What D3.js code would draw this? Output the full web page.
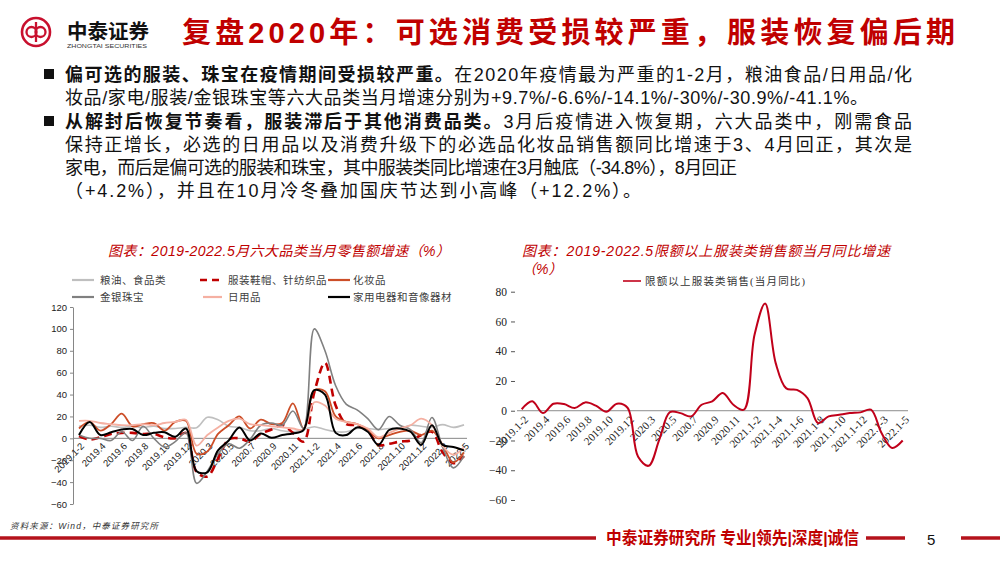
<!DOCTYPE html>
<html lang="zh-CN">
<head>
<meta charset="UTF-8" />
<title>复盘2020年：可选消费受损较严重，服装恢复偏后期</title>
<script src="https://d3js.org/d3.v7.min.js"></script>
<style>
    body { margin: 0; background: #fff; }
    svg { display: block; font-family: "Liberation Sans", "Noto Sans CJK SC", sans-serif; }
</style>
</head>
<body>
<svg id="slide" width="1000" height="563"></svg>
<script>
    // ---- data ----
    const months = ["2019.1-2","2019.3","2019.4","2019.5","2019.6","2019.7","2019.8","2019.9","2019.10","2019.11","2019.12",
        "2020.1-2","2020.3","2020.4","2020.5","2020.6","2020.7","2020.8","2020.9","2020.10","2020.11","2020.12",
        "2021.1-2","2021.3","2021.4","2021.5","2021.6","2021.7","2021.8","2021.9","2021.10","2021.11","2021.12",
        "2022.1-2","2022.3","2022.4","2022.5"];

    const leftTickLabels = ["2019.1-2","2019.4","2019.6","2019.8","2019.10","2019.12","2020.3","2020.5","2020.7","2020.9",
        "2020.11","2021.1-2","2021.4","2021.6","2021.8","2021.10","2021.12","2022.3","2022.5"];
    const rightTickLabels = ["2019.1-2","2019.4","2019.6","2019.8","2019.10","2019.12","2020.3","2020.5","2020.7","2020.9",
        "2020.11","2021.1-2","2021.1-4","2021.1-6","2021.1-8","2021.1-10","2021.1-12","2022.1-3","2022.1-5"];

    const leftSeriesNames = ["粮油、食品类","服装鞋帽、针纺织品","化妆品","金银珠宝","日用品","家用电器和音像器材"];

    const grain = [11, 12, 10, 11, 10, 11, 10, 11, 9, 9, 10,
        9.7, 19.2, 17, 11, 10, 7, 7, 9, 7, 6, 8,
        10.6, 8, 6, 6, 9, 9, 8, 9, 9, 12, 11,
        10, 12.5, 10, 12.3];
    const clothing = [2, -1, 1, 4, 5, 5, 4, 4, 1, 0, 5,
        -30.9, -34.8, -18.5, -1, 0, -3, 4.2, 8, 12.2, 5, -3,
        42, 69, 30, 13, 12, 7, -6, -5, -3, -2, 3,
        6, -12.7, -22.8, -16.2];
    const cosmetics = [9, 15, 7, 13, 22.5, 11, 13, 14, 7, 15, 16,
        -14.1, -12, 4, 12, 20, 9, 17, 13, 14, 32, 9,
        44, 43, 20, 15, 13, 8, 0, 3, 6, 7, 3,
        7, -6, -22, -13];
    const gold = [3, 0, 0, -2, 6, -2, 11, 0, -8, -3, 5,
        -41.1, -30, -14, -5, -9, -1, 12, 14, 12, 25, 9,
        100, 80, 48, 31, 26, 18, 8, 20, 12, 8, -4,
        19, -8, -27, -16];
    const daily = [16, 16, 14, 13, 12, 12, 13, 12, 14, 15, 17,
        -6.6, 3, 10, 16, 18, 13, 12, 11, 10, 9, 8,
        33, 30, 18, 15, 13, 9, 1, 5, 9, 12, 18,
        12, -7, -15, -8];
    const appliances = [3, 15, 3, 5.5, 8, 8.5, 3, 5, 5.5, 1.5, 9,
        -30, -31, -11, -2, 10, -2, 4.5, 0.5, 3, 4.5, 7.6,
        44, 40, 5, 3, 10, 6, -6, 7.6, 9, 6, -6,
        12, -6, -8, -11];

    const aboveQuotaClothing = [1, 6.3, -1.6, 4.7, 4.5, 1.8, 5.6, 3.4, -0.7, 4.7, 2,
        -31, -37, -19.5, -1, -1.6, -3.8, 4, 6.3, 11.9, 4, 0.7,
        51, 72, 32, 15, 14, 8.5, -8.3, -3.8, -2.7, -1.6, -1.1,
        0.7, -15, -25, -20];

    const leftTicksY = [-60, -40, -20, 0, 20, 40, 60, 80, 100, 120];
    const rightTicksY = [-60, -40, -20, 0, 20, 40, 60, 80];

    const RED = "#c00000";
    const SERIF = "'Liberation Serif', 'Noto Sans CJK SC', serif";

    const svg = d3.select("#slide");

    // ---- header ----
    const logo = svg.append("g").attr("transform", "translate(36,32)")
        .attr("fill", "none").attr("stroke", "#c8102e");
    logo.append("circle").attr("r", 14).attr("stroke-width", 2.6);
    logo.append("circle").attr("cx", -4.5).attr("r", 5).attr("stroke-width", 2.3);
    logo.append("circle").attr("cx", 4.5).attr("r", 5).attr("stroke-width", 2.3);
    logo.append("line").attr("y1", -10).attr("y2", 10).attr("stroke-width", 2.3);

    svg.append("text").attr("x", 67).attr("y", 39)
        .attr("font-size", 20).attr("font-weight", "bold").attr("fill", "#111")
        .attr("font-family", "'Noto Sans CJK SC', sans-serif")
        .attr("textLength", 82).attr("lengthAdjust", "spacingAndGlyphs")
        .text("中泰证券");
    svg.append("text").attr("x", 67).attr("y", 48)
        .attr("font-size", 6).attr("fill", "#333")
        .attr("textLength", 80).attr("lengthAdjust", "spacingAndGlyphs")
        .text("ZHONGTAI SECURITIES");

    svg.append("text").attr("x", 182).attr("y", 43)
        .attr("font-size", 29).attr("font-weight", "bold").attr("fill", RED)
        .attr("textLength", 773).attr("lengthAdjust", "spacing")
        .text("复盘2020年：可选消费受损较严重，服装恢复偏后期");

    // ---- bullet text ----
    const bodyLines = [
        { y: 74, w: 847, bullet: true, parts: [["偏可选的服装、珠宝在疫情期间受损较严重。", true], ["在2020年疫情最为严重的1-2月，粮油食品/日用品/化", false]] },
        { y: 97, w: 803, parts: [["妆品/家电/服装/金银珠宝等六大品类当月增速分别为+9.7%/-6.6%/-14.1%/-30%/-30.9%/-41.1%。", false]] },
        { y: 121, w: 847, bullet: true, parts: [["从解封后恢复节奏看，服装滞后于其他消费品类。", true], ["3月后疫情进入恢复期，六大品类中，刚需食品", false]] },
        { y: 144, w: 847, parts: [["保持正增长，必选的日用品以及消费升级下的必选品化妆品销售额同比增速于3、4月回正，其次是", false]] },
        { y: 167, w: 672, parts: [["家电，而后是偏可选的服装和珠宝，其中服装类同比增速在3月触底（-34.8%），8月回正", false]] },
        { y: 190, w: 576, parts: [["（+4.2%），并且在10月冷冬叠加国庆节达到小高峰（+12.2%）。", false]] }
    ];

    const body = svg.append("g").attr("font-size", 18).attr("fill", "#111");
    bodyLines.forEach(line => {
        if (line.bullet) {
            body.append("rect").attr("x", 44).attr("y", line.y - 5).attr("width", 10).attr("height", 10).attr("fill", "#111");
        }
        const t = body.append("text").attr("x", 65).attr("y", line.y + 6.5)
            .attr("textLength", line.w).attr("lengthAdjust", "spacing");
        line.parts.forEach(([s, b]) => {
            t.append("tspan").attr("font-weight", b ? "bold" : "normal").text(s);
        });
    });

    // ---- chart titles ----
    const titleStyle = sel => sel.attr("font-size", 14).attr("font-style", "italic").attr("fill", RED);
    svg.append("text").attr("x", 108).attr("y", 256).call(titleStyle)
        .attr("textLength", 342).attr("lengthAdjust", "spacing")
        .text("图表：2019-2022.5月六大品类当月零售额增速（%）");
    svg.append("text").attr("x", 522).attr("y", 256).call(titleStyle)
        .attr("textLength", 368).attr("lengthAdjust", "spacing")
        .text("图表：2019-2022.5限额以上服装类销售额当月同比增速");
    svg.append("text").attr("x", 522).attr("y", 274).call(titleStyle).text("（%）");

    // ---- left chart ----
    const xL = d3.scalePoint().domain(months).range([79, 464]);
    const yL = d3.scaleLinear().domain([-60, 120]).range([504, 307]);

    const leftStyles = [
        { data: grain, color: "#bfbfbf", width: 1.6 },
        { data: clothing, color: "#c00000", width: 2.6, dash: "8,5" },
        { data: cosmetics, color: "#cc4e28", width: 1.8 },
        { data: gold, color: "#808080", width: 1.6 },
        { data: daily, color: "#f5b0a2", width: 1.8 },
        { data: appliances, color: "#000000", width: 2 }
    ];

    const yAxisL = svg.append("g").attr("transform", "translate(73,0)")
        .call(d3.axisLeft(yL).tickValues(leftTicksY).tickSize(3).tickSizeOuter(0).tickPadding(3));
    yAxisL.selectAll("path, line").attr("stroke", "#868686");
    yAxisL.selectAll("text").attr("font-size", 9.5).attr("fill", "#222")
        .attr("font-family", "'Liberation Sans', sans-serif");

    svg.append("line").attr("x1", 73).attr("x2", 467)
        .attr("y1", yL(0)).attr("y2", yL(0)).attr("stroke", "#868686");

    const xAxisL = svg.append("g").attr("transform", `translate(0,${yL(0)})`)
        .call(d3.axisBottom(xL).tickValues(months.filter((d, i) => i % 2 === 0))
            .tickFormat((d, i) => leftTickLabels[i]).tickSize(0));
    xAxisL.select(".domain").remove();
    xAxisL.selectAll("text")
        .attr("x", 0).attr("y", 0).attr("dy", "0.35em")
        .attr("transform", "translate(3,6) rotate(-45)")
        .attr("text-anchor", "end").attr("font-size", 9.5).attr("fill", "#222")
        .attr("font-family", "'Liberation Sans', sans-serif");

    const lineL = d3.line()
        .x((d, i) => xL(months[i]))
        .y(d => yL(d))
        .curve(d3.curveCatmullRom.alpha(0.5));

    svg.append("g").attr("fill", "none")
        .selectAll("path")
        .data(leftStyles)
        .join("path")
        .attr("d", d => lineL(d.data))
        .attr("stroke", d => d.color)
        .attr("stroke-width", d => d.width)
        .attr("stroke-dasharray", d => d.dash || null);

    // legend
    const legendPos = [[72, 280], [200, 280], [328, 280], [72, 297], [200, 297], [328, 297]];
    const legend = svg.append("g").attr("font-size", 10.5).attr("fill", "#404040");
    leftSeriesNames.forEach((name, i) => {
        const [lx, ly] = legendPos[i];
        const st = leftStyles[i];
        const x0 = i === 4 ? lx + 3 : lx;
        legend.append("line").attr("x1", x0).attr("x2", lx + 22).attr("y1", ly).attr("y2", ly)
            .attr("stroke", st.color).attr("stroke-width", st.dash ? 2.6 : 2.2)
            .attr("stroke-dasharray", st.dash ? "7,5" : null);
        legend.append("text").attr("x", lx + (i % 3 === 2 ? 25 : 28)).attr("y", ly + 4)
            .attr("letter-spacing", 0.5).text(name);
    });

    // ---- right chart ----
    const xR = d3.scalePoint().domain(months).range([521.7, 902.7]);
    const yR = d3.scaleLinear().domain([-60, 80]).range([500, 291.7]);

    const yAxisR = svg.append("g").attr("transform", "translate(515,0)")
        .call(d3.axisLeft(yR).tickValues(rightTicksY).tickSize(4).tickSizeOuter(0).tickPadding(4));
    yAxisR.select(".domain").remove();
    yAxisR.selectAll("line").attr("stroke", "#555");
    yAxisR.selectAll("text").attr("font-size", 11.5).attr("fill", "#222").attr("font-family", SERIF);

    svg.append("line").attr("x1", 517).attr("x2", 908)
        .attr("y1", yR(0)).attr("y2", yR(0)).attr("stroke", "#8c8c8c");

    const xAxisR = svg.append("g").attr("transform", `translate(0,${yR(0)})`)
        .call(d3.axisBottom(xR).tickValues(months.filter((d, i) => i % 2 === 0))
            .tickFormat((d, i) => rightTickLabels[i]).tickSize(0));
    xAxisR.select(".domain").remove();
    xAxisR.selectAll("text")
        .attr("x", 0).attr("y", 0).attr("dy", "0.35em")
        .attr("transform", "translate(4,7) rotate(-45)")
        .attr("text-anchor", "end").attr("font-size", 11).attr("fill", "#222")
        .attr("font-family", SERIF);

    const lineR = d3.line()
        .x((d, i) => xR(months[i]))
        .y(d => yR(d))
        .curve(d3.curveCatmullRom.alpha(0.5));

    svg.append("path").datum(aboveQuotaClothing)
        .attr("fill", "none").attr("stroke", "#c0001a").attr("stroke-width", 2)
        .attr("d", lineR);

    svg.append("line").attr("x1", 623).attr("x2", 641).attr("y1", 281).attr("y2", 281)
        .attr("stroke", "#c0001a").attr("stroke-width", 1.6);
    svg.append("text").attr("x", 645).attr("y", 285)
        .attr("font-size", 10.5).attr("fill", "#333").attr("font-family", SERIF)
        .attr("textLength", 160).attr("lengthAdjust", "spacing")
        .text("限额以上服装类销售(当月同比)");

    // ---- footer ----
    svg.append("text").attr("x", 10).attr("y", 529)
        .attr("font-size", 8.5).attr("font-style", "italic").attr("fill", "#333")
        .attr("textLength", 148).attr("lengthAdjust", "spacing")
        .text("资料来源：Wind，中泰证券研究所");

    const footRed = "#b5121b";
    svg.append("line").attr("x1", 0).attr("x2", 596).attr("y1", 538).attr("y2", 538)
        .attr("stroke", footRed).attr("stroke-width", 3.5);
    svg.append("text").attr("x", 606).attr("y", 544)
        .attr("font-size", 17).attr("font-weight", "bold").attr("fill", RED)
        .attr("textLength", 253).attr("lengthAdjust", "spacingAndGlyphs")
        .text("中泰证券研究所 专业|领先|深度|诚信");
    svg.append("line").attr("x1", 866).attr("x2", 905).attr("y1", 538).attr("y2", 538)
        .attr("stroke", footRed).attr("stroke-width", 3.5);
    svg.append("text").attr("x", 927).attr("y", 545)
        .attr("font-size", 15).attr("fill", "#111").text("5");
    svg.append("line").attr("x1", 961).attr("x2", 1000).attr("y1", 538).attr("y2", 538)
        .attr("stroke", footRed).attr("stroke-width", 3.5);
</script>
</body>
</html>
